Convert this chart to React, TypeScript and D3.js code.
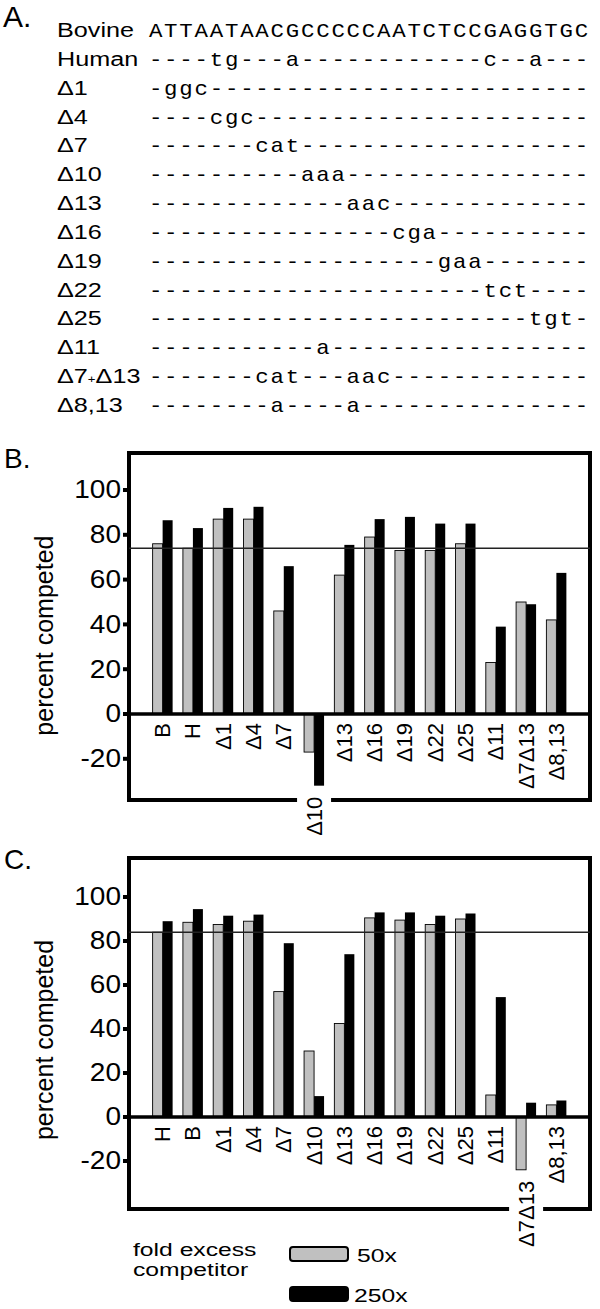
import React from 'react';
import * as d3 from 'd3';

const W = 600;
const H = 1309;
const SANS = '"Liberation Sans", Arial, sans-serif';
const MONO = '"Liberation Mono", "Courier New", monospace';

// panel A: sequence alignment
const bovine = "ATTAATAACGCCCCCAATCTCCGAGGTGC";
const rowLabels = ["Bovine", "Human", "Δ1", "Δ4", "Δ7", "Δ10", "Δ13", "Δ16", "Δ19", "Δ22", "Δ25", "Δ11", "Δ7+Δ13", "Δ8,13"];
// [column, letters] changed relative to bovine, everything else is a dash
const rowMuts: [number, string][][] = [
  [],
  [[4, "tg"], [9, "a"], [22, "c"], [25, "a"]],
  [[1, "ggc"]],
  [[4, "cgc"]],
  [[7, "cat"]],
  [[10, "aaa"]],
  [[13, "aac"]],
  [[16, "cga"]],
  [[19, "gaa"]],
  [[22, "tct"]],
  [[25, "tgt"]],
  [[11, "a"]],
  [[7, "cat"], [13, "aac"]],
  [[8, "a"], [13, "a"]],
];

// panels B and C
const series = ["50x", "250x"];
const seriesFill = ["#c0c0c0", "#000"];
const ticks = [-20, 0, 20, 40, 60, 80, 100];

const catsB = ["B", "H", "Δ1", "Δ4", "Δ7", "Δ10", "Δ13", "Δ16", "Δ19", "Δ22", "Δ25", "Δ11", "Δ7Δ13", "Δ8,13"];
const b50 = [76, 74, 87, 87, 46, -17, 62, 79, 73, 73, 76, 23, 50, 42];
const b250 = [86.5, 83, 92, 92.5, 66, -32, 75.5, 87, 88, 85, 85, 39, 49, 63];
const refB = 74;

const catsC = ["H", "B", "Δ1", "Δ4", "Δ7", "Δ10", "Δ13", "Δ16", "Δ19", "Δ22", "Δ25", "Δ11", "Δ7Δ13", "Δ8,13"];
const c50 = [84, 88.5, 87.5, 89, 57, 30, 42.5, 90.5, 89.5, 87.5, 90, 10, -24, 5.5];
const c250 = [89, 94.5, 91.5, 92, 79, 9.5, 74, 93, 93, 91.5, 92.5, 54.5, 6.5, 7.5];
const refC = 84;

function rowString(muts: [number, string][]) {
  const chars = bovine.split("").map(() => "-");
  muts.forEach(([c, s]) => s.split("").forEach((ch, k) => { chars[c + k] = ch; }));
  return chars.join("");
}

function Alignment() {
  const col = d3.scaleLinear().domain([0, bovine.length]).range([148, 589]);
  const row = d3.scaleLinear().domain([0, rowLabels.length - 1]).range([37, 412]);
  const rows = rowLabels.map((l, i) => (i === 0 ? bovine : rowString(rowMuts[i])));
  return (
    <g>
      <text x={3} y={27} fontFamily={SANS} fontSize={30}>A.</text>
      {rowLabels.map((l, i) => (
        <text key={l} transform={`translate(57,${row(i)}) scale(1.2,1)`} fontFamily={SANS} fontSize={21}>
          {l === "Δ7+Δ13"
            ? (<><tspan>Δ7</tspan><tspan fontSize={11}>+</tspan><tspan>Δ13</tspan></>)
            : l}
        </text>
      ))}
      {rows.map((s, i) =>
        s.split("").map((ch, j) => (
          <text key={i + "-" + j} transform={`translate(${col(j + 0.5)},${row(i)}) scale(1.12,1)`}
            textAnchor="middle" fontFamily={MONO} fontSize={20}>{ch}</text>
        ))
      )}
    </g>
  );
}

type PanelProps = {
  letter: string, letterY: number, top: number, bottom: number, zero: number, k: number,
  cats: string[], v50: number[], v250: number[], refLine: number
};

function Panel({ letter, letterY, top, bottom, zero, k, cats, v50, v250, refLine }: PanelProps) {
  const left = 129, right = 590;
  const y = d3.scaleLinear().domain([0, 100]).range([zero, zero - 100 * k]);
  const x = d3.scaleBand().domain(cats).range([left, right]).paddingInner(0.34).paddingOuter(0.78);
  const xs = d3.scaleBand().domain(series).range([0, x.bandwidth()]);
  const vals = [v50, v250];

  // labels of groups that dip far below zero go under the bar and break the frame
  const labelTop = cats.map((c, i) => {
    const lo = Math.min(v50[i], v250[i]);
    return lo < -20 ? y(lo) + 11 : zero + 9;
  });
  const breaks = cats.map((c, i) => ({ c, i })).filter(d => Math.min(v50[d.i], v250[d.i]) < -20)
    .map(d => (x(d.c) as number) + x.bandwidth() / 2);
  let bottomSegs: [number, number][] = [[left, right]];
  breaks.forEach(bx => {
    bottomSegs = bottomSegs.flatMap(([a, b]) => (bx > a && bx < b ? [[a, bx - 19], [bx + 19, b]] : [[a, b]])) as [number, number][];
  });

  return (
    <g>
      <text x={4} y={letterY} fontFamily={SANS} fontSize={28}>{letter}</text>
      {/* bars */}
      {cats.map((c, i) => (
        <g key={c} transform={`translate(${x(c)},0)`}>
          {series.map((s, j) => {
            const v = vals[j][i];
            return (
              <rect key={s} x={xs(s)} width={xs.bandwidth()}
                y={Math.min(y(v), y(0))} height={Math.abs(y(v) - y(0))}
                fill={seriesFill[j]} stroke="#000" strokeWidth={j === 0 ? 0.9 : 0} />
            );
          })}
        </g>
      ))}
      {/* frame */}
      <path d={`M${left},${bottom} L${left},${top} L${right},${top} L${right},${bottom}`}
        fill="none" stroke="#000" strokeWidth={4} strokeLinecap="square" />
      {bottomSegs.map(([a, b], i) => (
        <line key={i} x1={a} x2={b} y1={bottom} y2={bottom} stroke="#000" strokeWidth={4} strokeLinecap="square" />
      ))}
      <line x1={left} x2={right} y1={y(0)} y2={y(0)} stroke="#000" strokeWidth={3.5} />
      <line x1={left} x2={right} y1={y(refLine)} y2={y(refLine)} stroke="#222" strokeWidth={1.5} />
      {/* y axis */}
      {ticks.map(t => (
        <g key={t}>
          <line x1={123} x2={left} y1={y(t)} y2={y(t)} stroke="#000" strokeWidth={4} />
          <text transform={`translate(121,${y(t)}) scale(1.12,1)`} textAnchor="end" dominantBaseline="central"
            fontFamily={SANS} fontSize={25}>{t}</text>
        </g>
      ))}
      <text transform={`translate(53,${y(35)}) rotate(-90)`} textAnchor="middle"
        fontFamily={SANS} fontSize={25}>percent competed</text>
      {/* category labels */}
      {cats.map((c, i) => (
        <text key={c} transform={`translate(${(x(c) as number) + x.bandwidth() / 2},${labelTop[i]}) rotate(-90)`}
          textAnchor="end" dominantBaseline="central" fontFamily={SANS} fontSize={22}>{c}</text>
      ))}
    </g>
  );
}

function Legend() {
  const rowY = d3.scaleLinear().domain([0, 1]).range([1247, 1287]);
  return (
    <g fontFamily={SANS} fontSize={19}>
      <text transform="translate(133,1256) scale(1.3,1)">fold excess</text>
      <text transform="translate(133,1276) scale(1.3,1)">competitor</text>
      {series.map((s, j) => (
        <g key={s}>
          <rect x={290} y={rowY(j)} width={58} height={14} rx={3}
            fill={seriesFill[j]} stroke="#000" strokeWidth={2} />
          <text transform={`translate(${j === 0 ? 357 : 354},${rowY(j) + 15}) scale(1.3,1)`}>{s}</text>
        </g>
      ))}
    </g>
  );
}

export default function App() {
  return (
    <div style={{ position: 'absolute', left: 0, top: 0 }}>
      <svg width={W} height={H} style={{ display: 'block', background: '#fff' }}>
        <Alignment />
        <Panel letter="B." letterY={468} top={453} bottom={800} zero={714} k={2.24}
          cats={catsB} v50={b50} v250={b250} refLine={refB} />
        <Panel letter="C." letterY={869} top={858} bottom={1209} zero={1117} k={2.2}
          cats={catsC} v50={c50} v250={c250} refLine={refC} />
        <Legend />
      </svg>
    </div>
  );
}
